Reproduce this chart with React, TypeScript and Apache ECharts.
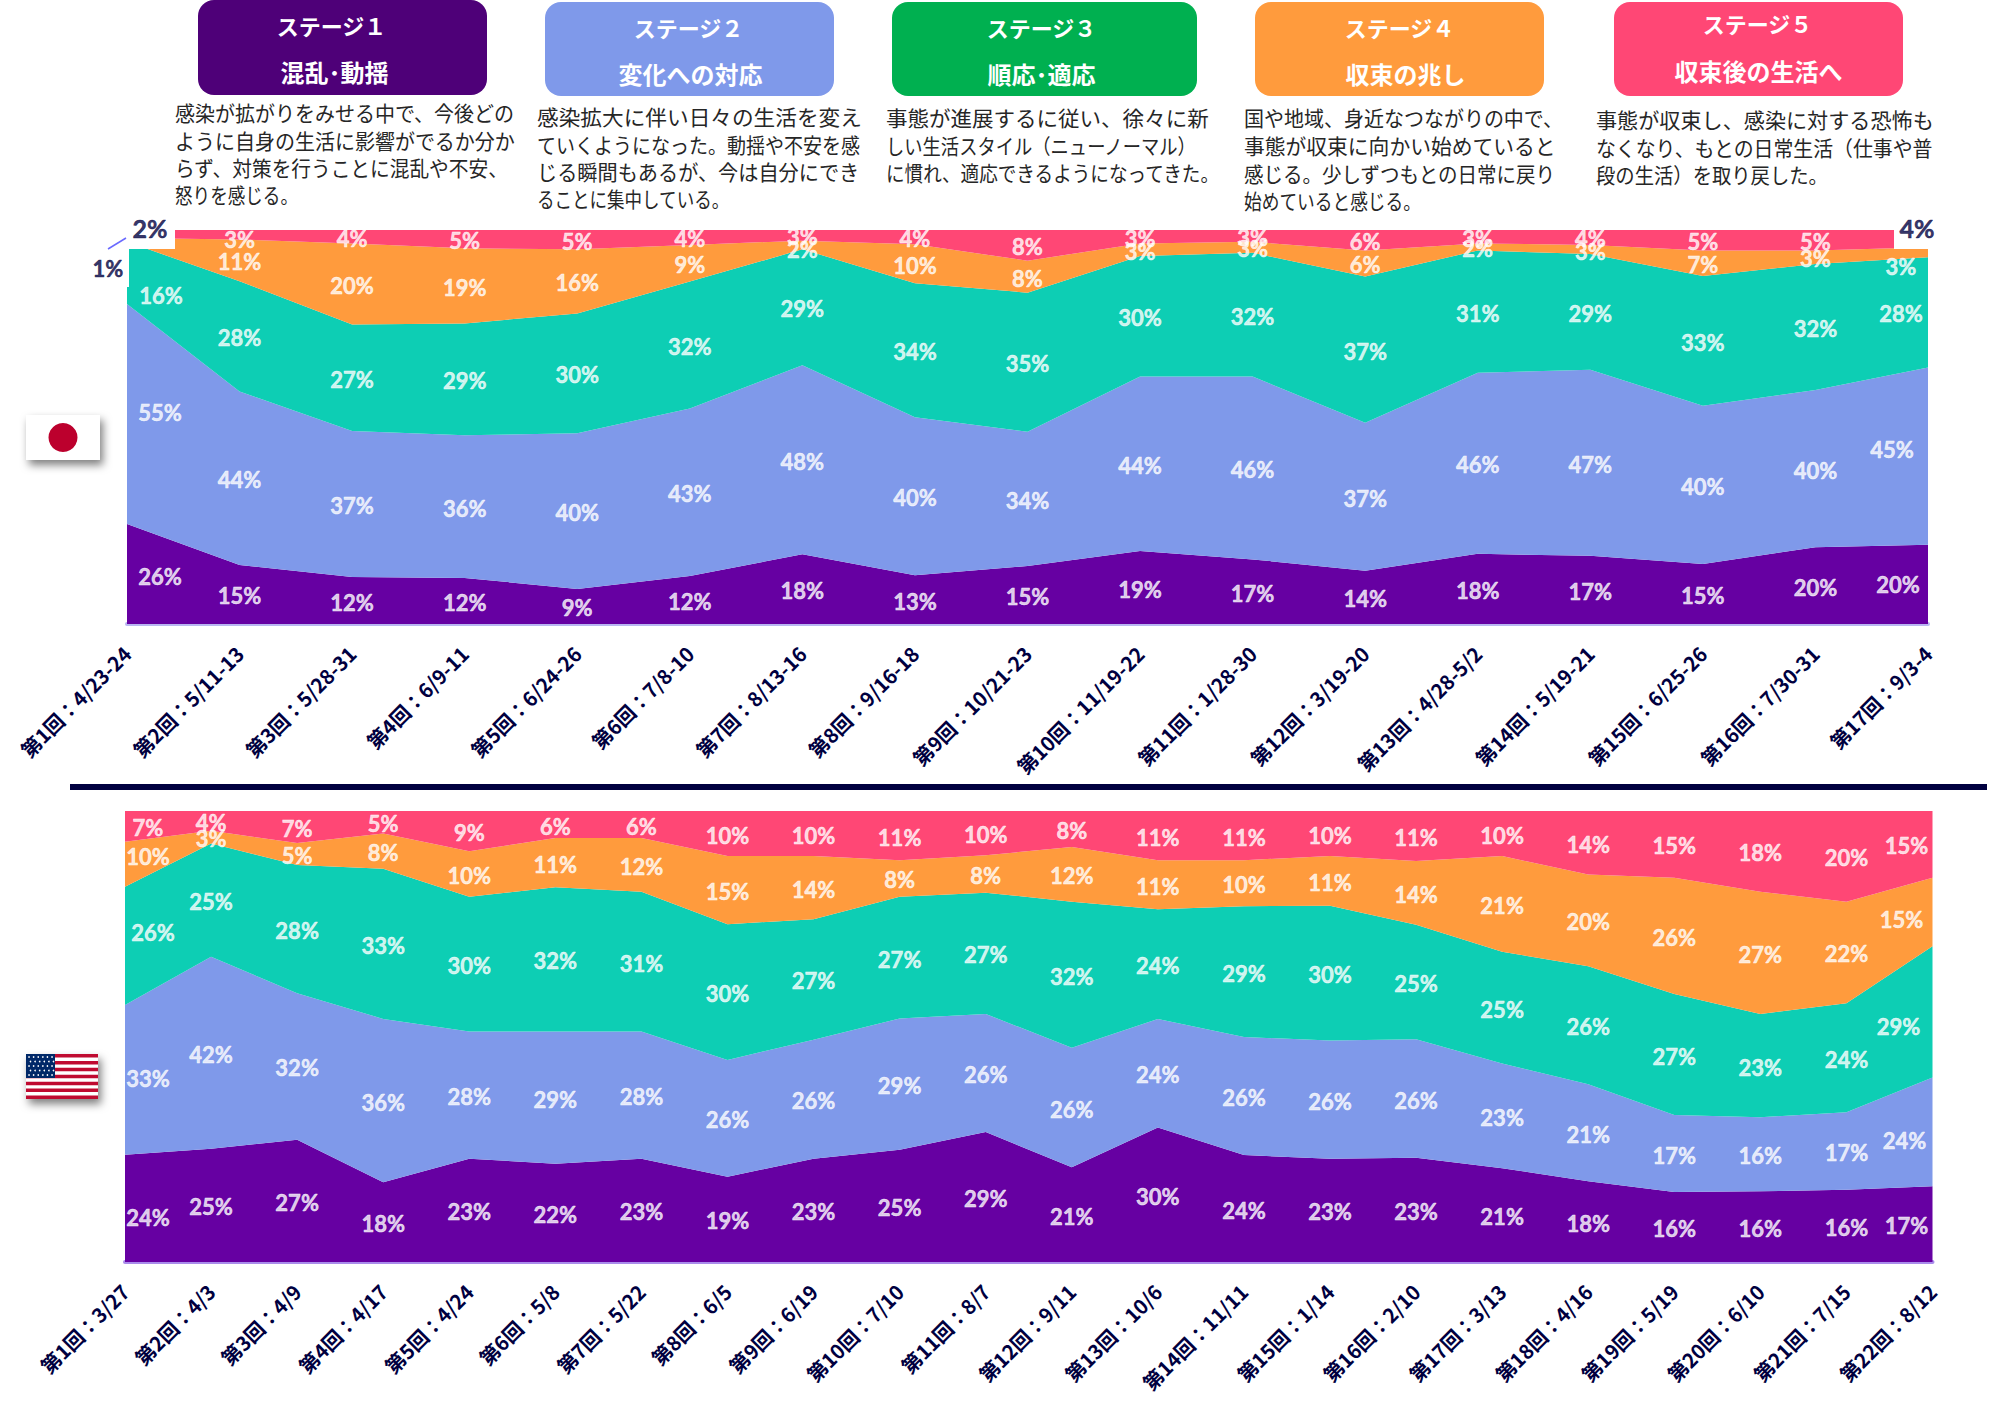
import React, { useEffect, useRef } from "react";
import * as echarts from "echarts";

const jpCategories = ["第1回：4/23-24","第2回：5/11-13","第3回：5/28-31","第4回：6/9-11","第5回：6/24-26","第6回：7/8-10","第7回：8/13-16","第8回：9/16-18","第9回：10/21-23","第10回：11/19-22","第11回：1/28-30","第12回：3/19-20","第13回：4/28-5/2","第14回：5/19-21","第15回：6/25-26","第16回：7/30-31","第17回：9/3-4"];
const usCategories = ["第1回：3/27","第2回：4/3","第3回：4/9","第4回：4/17","第5回：4/24","第6回：5/8","第7回：5/22","第8回：6/5","第9回：6/19","第10回：7/10","第11回：8/7","第12回：9/11","第13回：10/6","第14回：11/11","第15回：1/14","第16回：2/10","第17回：3/13","第18回：4/16","第19回：5/19","第20回：6/10","第21回：7/15","第22回：8/12"];

// Band thickness, bottom to top
const jpStage1 = [25.4,15,11.9,11.7,8.9,12.2,17.7,12.4,14.7,18.5,16.4,13.5,17.8,17.3,15.2,19.5,20.1];
const jpStage2 = [55.8,44,37.1,36.2,39.5,42.5,48,40.1,34.1,44.3,46.4,37.6,46,47.2,40.2,39.9,45];
const jpStage3 = [15.8,28,27,28.4,30.4,32.2,29.4,34,35.3,30.6,31.4,37.1,31,29.4,32.9,32,28];
const jpStage4 = [1,10.6,20.6,19.05,16.3,9.3,2.2,9.9,8.1,3.2,2.8,6.6,1.8,2.3,6.5,3.4,2.5];
const jpStage5 = [2,2.4,3.4,4.65,4.9,3.8,2.7,3.6,7.8,3.4,3,5.2,3.4,3.8,5.2,5.2,4.4];

const usStage1 = [23.8,25.1,27.1,17.7,22.9,21.8,22.9,18.9,22.9,24.9,28.8,21,29.8,23.7,22.9,23.1,20.8,17.9,15.5,15.7,16,16.8];
const usStage2 = [33.2,42.6,32.5,36.2,28.2,29.3,28.2,25.9,26.4,29.1,26.2,26.5,24.1,26.2,26.2,26.3,23.2,21.5,17.1,16.4,17.2,24.1];
const usStage3 = [26.2,25.1,28.4,33.3,29.9,32,31,30.1,26.7,27,26.9,32.4,24.3,29,29.9,25.4,24.8,26.2,26.8,22.9,24.2,29.1];
const usStage4 = [10,2.8,4.9,7.8,10.1,10.9,11.9,15.1,14,8.1,8.3,12.1,10.9,10.2,11,14.1,21.2,20.3,25.8,27.1,22.5,15.2];
const usStage5 = [6.8,4.4,7.1,5,8.9,6,6,10,10,10.9,9.8,8,10.9,10.9,10,11.1,10,14.1,14.8,17.9,20.1,14.8];

// Printed percentages
const jpLabel1 = [26,15,12,12,9,12,18,13,15,19,17,14,18,17,15,20,20];
const jpLabel2 = [55,44,37,36,40,43,48,40,34,44,46,37,46,47,40,40,45];
const jpLabel3 = [16,28,27,29,30,32,29,34,35,30,32,37,31,29,33,32,28];
const jpLabel4 = [1,11,20,19,16,9,2,10,8,3,3,6,2,3,7,3,3];
const jpLabel5 = [2,3,4,5,5,4,3,4,8,3,3,6,3,4,5,5,4];

const usLabel1 = [24,25,27,18,23,22,23,19,23,25,29,21,30,24,23,23,21,18,16,16,16,17];
const usLabel2 = [33,42,32,36,28,29,28,26,26,29,26,26,24,26,26,26,23,21,17,16,17,24];
const usLabel3 = [26,25,28,33,30,32,31,30,27,27,27,32,24,29,30,25,25,26,27,23,24,29];
const usLabel4 = [10,3,5,8,10,11,12,15,14,8,8,12,11,10,11,14,21,20,26,27,22,15];
const usLabel5 = [7,4,7,5,9,6,6,10,10,11,10,8,11,11,10,11,10,14,15,18,20,15];

const stageTitles = ["ステージ１","ステージ２","ステージ３","ステージ４","ステージ５"];
const stageNames = ["混乱･動揺","変化への対応","順応･適応","収束の兆し","収束後の生活へ"];
const stageTexts = [
  ["感染が拡がりをみせる中で、今後どの","ように自身の生活に影響がでるか分か","らず、対策を行うことに混乱や不安、","怒りを感じる。"],
  ["感染拡大に伴い日々の生活を変え","ていくようになった。動揺や不安を感","じる瞬間もあるが、今は自分にでき","ることに集中している。"],
  ["事態が進展するに従い、徐々に新","しい生活スタイル（ニューノーマル）","に慣れ、適応できるようになってきた。"],
  ["国や地域、身近なつながりの中で、","事態が収束に向かい始めていると","感じる。少しずつもとの日常に戻り","始めていると感じる。"],
  ["事態が収束し、感染に対する恐怖も","なくなり、もとの日常生活（仕事や普","段の生活）を取り戻した。"],
];

const AREA_COLORS = ["#6600A2", "#7F99EA", "#0DCEB4", "#FF9B3D", "#FF4775"];
const HEADER_COLORS = ["#4E0078", "#7F99EA", "#00B050", "#FF9B3D", "#FF4775"];
const NAVY = "#00003F";
const LABEL_FONT = "Lato, 'Noto Sans', sans-serif";
const JP_FONT = "'Noto Sans CJK JP', sans-serif";

const headerBoxes = [
  { x: 198, y: 0, w: 289, h: 95, y1: 25, y2: 71, dx1: -11, dx2: -8 },
  { x: 545, y: 2, w: 289, h: 94, y1: 27, y2: 73, dx1: -1, dx2: 1 },
  { x: 892, y: 2, w: 305, h: 94, y1: 27, y2: 73, dx1: -3, dx2: -3 },
  { x: 1255, y: 2, w: 289, h: 94, y1: 27, y2: 73, dx1: 0, dx2: 6 },
  { x: 1614, y: 2, w: 289, h: 94, y1: 23, y2: 70, dx1: -1, dx2: 0 },
];
const descBlocks = [
  { x: 175, y: 112, widths: [340, 340, 335, 123] },
  { x: 537, y: 116, widths: [325, 323, 323, 193] },
  { x: 886, y: 117, widths: [323, 311, 335] },
  { x: 1244, y: 117, widths: [320, 312, 312, 177] },
  { x: 1596, y: 119, widths: [338, 338, 232] },
];

function buildGraphics() {
  const g: any[] = [];
  headerBoxes.forEach((b, i) => {
    g.push({ type: "rect", shape: { x: b.x, y: b.y, width: b.w, height: b.h, r: 16 }, style: { fill: HEADER_COLORS[i] } });
    const cx = b.x + b.w / 2;
    g.push({ type: "text", x: cx + b.dx1, y: b.y1, style: { text: stageTitles[i], fill: "#fff", font: `bold 22px ${JP_FONT}`, textAlign: "center", textVerticalAlign: "middle" } });
    g.push({ type: "text", x: cx + b.dx2, y: b.y2, style: { text: stageNames[i], fill: "#fff", font: `bold 24px ${JP_FONT}`, textAlign: "center", textVerticalAlign: "middle" } });
  });
  descBlocks.forEach((d, i) => {
    stageTexts[i].forEach((line, j) => {
      g.push({
        type: "text", x: d.x, y: d.y + j * 27.6, scaleX: d.widths[j] / (line.length * 21),
        style: { text: line, fill: "#262626", font: `21px ${JP_FONT}`, textAlign: "left", textVerticalAlign: "middle" },
      });
    });
  });
  // masks that cut the top labels at the plot edge, and the boxes behind the edge labels
  g.push({ type: "rect", z: 20, shape: { x: 175, y: 214, width: 1719, height: 16 }, style: { fill: "#fff" } });
  g.push({ type: "rect", z: 20, shape: { x: 125, y: 795, width: 1810, height: 16 }, style: { fill: "#fff" } });
  g.push({ type: "rect", z: 5, shape: { x: 127, y: 225, width: 48, height: 24 }, style: { fill: "#fff" } });
  g.push({ type: "rect", z: 5, shape: { x: 1894, y: 225, width: 36, height: 24 }, style: { fill: "#fff" } });
  g.push({ type: "rect", z: 5, shape: { x: 118, y: 249, width: 11, height: 38 }, style: { fill: "#fff" } });
  g.push({ type: "line", z: 6, shape: { x1: 108, y1: 249, x2: 126, y2: 238 }, style: { stroke: "#6A6AFF", lineWidth: 1.5 } });
  // divider
  g.push({ type: "rect", shape: { x: 70, y: 784, width: 1917, height: 6 }, style: { fill: NAVY } });
  // Japan flag
  g.push({ type: "rect", shape: { x: 26, y: 415, width: 74, height: 45 }, style: { fill: "#fff", shadowBlur: 8, shadowColor: "rgba(0,0,0,0.5)", shadowOffsetX: 3, shadowOffsetY: 5 } });
  g.push({ type: "circle", shape: { cx: 63, cy: 437.5, r: 14.5 }, style: { fill: "#BC002D" } });
  // US flag
  const fx = 26, fy = 1054, fw = 72, fh = 45;
  g.push({ type: "rect", shape: { x: fx, y: fy, width: fw, height: fh }, style: { fill: "#fff", shadowBlur: 8, shadowColor: "rgba(0,0,0,0.5)", shadowOffsetX: 3, shadowOffsetY: 5 } });
  for (let s = 0; s < 13; s += 2) {
    g.push({ type: "rect", shape: { x: fx, y: fy + (s * fh) / 13, width: fw, height: fh / 13 }, style: { fill: "#BF0A30" } });
  }
  g.push({ type: "rect", shape: { x: fx, y: fy, width: 29, height: 24 }, style: { fill: "#002868" } });
  for (let r = 0; r < 5; r++) {
    for (let c = 0; c < 6; c++) {
      g.push({ type: "circle", shape: { cx: fx + 3 + c * 4.6 + (r % 2) * 1.5, cy: fy + 3 + r * 4.5, r: 0.8 }, style: { fill: "#fff" } });
    }
  }
  return g;
}

function buildPanel(idx: number, stackName: string, stages: number[][], labels: number[][], edge: [number, number], specials: Record<string, any>) {
  const series: any[] = [];
  const n = stages[0].length;
  stages.forEach((vals, s) => {
    series.push({
      name: `${stackName}${s + 1}`, type: "line", stack: stackName, xAxisIndex: idx, yAxisIndex: idx, data: vals,
      symbol: "none", silent: true, lineStyle: { width: 0 }, areaStyle: { color: AREA_COLORS[s], opacity: 1 },
    });
  });
  const points: any[] = [];
  const cum = new Array(n).fill(0);
  stages.forEach((vals, s) => {
    vals.forEach((v, i) => {
      const mid = cum[i] + v / 2;
      cum[i] += v;
      const sp = specials[`${s}-${i}`];
      const baseDx = i === 0 ? edge[0] : i === n - 1 ? edge[1] : 0;
      const color = sp && sp.color ? sp.color : "#fff";
      points.push({
        value: [i, mid],
        label: {
          formatter: `${labels[s][i]}%`,
          offset: sp ? sp.offset : [baseDx, 1.5],
          color,
          textBorderColor: color,
          textBorderWidth: 0.5,
          fontSize: sp && sp.size ? sp.size : 22,
        },
      });
    });
  });
  series.push({
    type: "scatter", xAxisIndex: idx, yAxisIndex: idx, z: 10, silent: true, symbolSize: 1,
    itemStyle: { color: "rgba(0,0,0,0)" }, data: points,
    label: { show: true, position: "inside", fontFamily: LABEL_FONT, fontWeight: "bold", fontSize: 22 },
  });
  return series;
}

export default function App() {
  const ref = useRef<HTMLDivElement>(null);
  useEffect(() => {
    document.body.style.margin = "0";
    const chart = echarts.init(ref.current!, undefined, { renderer: "svg" });
    const axisX = (data: string[], gridIndex: number, lineColor: string) => ({
      type: "category", gridIndex, data, boundaryGap: false,
      axisTick: { show: false }, axisLine: { lineStyle: { color: lineColor, width: 4 } },
      axisLabel: { interval: 0, rotate: 45, margin: 26, color: NAVY, fontFamily: JP_FONT, fontWeight: "bold", fontSize: 20, hideOverlap: false },
    });
    const axisY = (gridIndex: number) => ({
      type: "value", gridIndex, min: 0, max: 100, show: false, splitLine: { show: false },
    });
    chart.setOption({
      animation: false,
      backgroundColor: "#fff",
      grid: [
        { left: 127, top: 230, width: 1801, height: 394 },
        { left: 125, top: 811, width: 1807.5, height: 451 },
      ],
      xAxis: [axisX(jpCategories, 0, "#B9B6F2"), axisX(usCategories, 1, "#A98CEB")],
      yAxis: [axisY(0), axisY(1)],
      series: [
        ...buildPanel(0, "jp", [jpStage1, jpStage2, jpStage3, jpStage4, jpStage5], [jpLabel1, jpLabel2, jpLabel3, jpLabel4, jpLabel5], [33, -27], {
          "4-0": { offset: [23, -6], color: NAVY, size: 25 },
          "3-0": { offset: [-19, 29], color: NAVY, size: 22 },
          "4-16": { offset: [-11, -11], color: NAVY, size: 25 },
          "2-0": { offset: [34, 23] },
          "1-0": { offset: [33, -1] },
          "0-0": { offset: [33, 3] },
          "1-16": { offset: [-36, -7] },
          "0-16": { offset: [-30, 0] },
          "3-16": { offset: [-27, 14] },
          "4-1": { offset: [0, 5] },
          "3-6": { offset: [0, 5] },
        }),
        ...buildPanel(1, "us", [usStage1, usStage2, usStage3, usStage4, usStage5], [usLabel1, usLabel2, usLabel3, usLabel4, usLabel5], [23, -26], {
          "2-0": { offset: [28, -13] },
          "3-0": { offset: [23, -8] },
          "1-0": { offset: [23, -1] },
          "0-0": { offset: [23, 9] },
          "2-21": { offset: [-34, 15] },
          "1-21": { offset: [-28, 9] },
          "3-21": { offset: [-31, 7] },
        }),
      ],
      graphic: buildGraphics(),
    });
    return () => chart.dispose();
  }, []);
  return <div ref={ref} style={{ position: "fixed", left: 0, top: 0, width: 1989, height: 1408 }} />;
}
